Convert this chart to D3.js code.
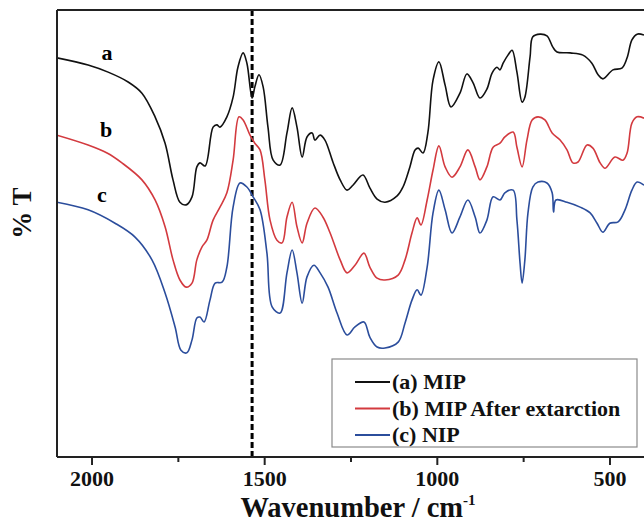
<!DOCTYPE html>
<html>
<head>
<meta charset="utf-8">
<script src="https://cdn.jsdelivr.net/npm/d3@7"></script>
<style>
  body { margin: 0; background: #fff; }
  text { font-family: "Liberation Serif", "Times New Roman", serif; font-weight: bold; }
</style>
</head>
<body>
<script>
// FTIR spectra, [wavenumber, %T]
var mipData = [
  [2100,89.3],[2010,87.7],[1952,86.1],[1894,83.9],[1854,81.4],[1816,76.1],[1787,70.2],[1764,62.0],
  [1744,57.0],[1726,56.4],[1709,58.2],[1695,64.9],[1686,65.8],[1671,65.1],[1648,73.8],[1637,74.3],
  [1628,73.8],[1608,76.1],[1590,80.5],[1576,87.2],[1561,90.4],[1550,88.1],[1535,80.3],[1527,82.8],
  [1515,85.5],[1503,82.8],[1489,73.8],[1474,66.4],[1454,65.3],[1434,72.5],[1419,78.1],[1405,73.8],
  [1390,67.1],[1376,71.6],[1361,72.5],[1353,70.9],[1338,72.0],[1324,70.9],[1301,66.0],[1280,62.0],
  [1260,59.7],[1243,60.8],[1214,63.1],[1194,60.2],[1173,57.7],[1150,57.0],[1115,58.4],[1098,60.4],
  [1078,64.9],[1063,68.7],[1054,69.1],[1040,68.0],[1026,72.5],[1011,84.3],[994,88.4],[976,83.2],
  [959,78.3],[933,81.4],[913,85.7],[895,83.7],[875,80.3],[855,82.3],[840,85.9],[826,87.2],
  [817,86.6],[808,88.1],[794,89.9],[782,91.0],[768,86.1],[753,79.4],[745,80.5],[730,89.5],
  [722,94.0],[701,94.6],[681,94.2],[664,91.7],[652,90.6],[614,90.4],[577,89.9],[551,88.1],
  [533,85.5],[519,84.6],[490,86.6],[464,87.0],[449,89.3],[435,93.3],[420,94.6],[400,94.4]
];
var mipExtractedData = [
  [2100,72.0],[2010,69.8],[1955,68.0],[1912,65.8],[1854,62.0],[1816,57.5],[1787,51.5],[1764,44.1],
  [1744,39.6],[1726,38.0],[1709,38.9],[1695,44.1],[1680,47.0],[1666,48.5],[1648,53.0],[1628,55.9],
  [1608,59.1],[1590,66.4],[1573,76.1],[1561,75.4],[1541,72.0],[1527,70.2],[1512,68.7],[1498,62.0],
  [1483,53.0],[1463,48.5],[1448,47.9],[1434,53.7],[1419,57.0],[1405,51.5],[1390,47.9],[1376,52.3],
  [1353,55.7],[1330,53.7],[1309,50.1],[1280,44.1],[1260,41.2],[1237,42.9],[1211,45.6],[1194,42.5],
  [1173,40.0],[1150,39.6],[1112,40.7],[1092,44.1],[1072,50.1],[1057,53.5],[1046,51.9],[1028,57.5],
  [1011,64.2],[994,69.6],[976,64.9],[956,62.6],[933,64.9],[910,68.7],[889,64.9],[875,62.0],
  [855,64.9],[837,69.3],[817,70.2],[803,71.6],[779,72.7],[768,69.3],[753,64.9],[739,70.9],
  [724,75.4],[707,76.1],[687,75.4],[666,72.5],[643,70.9],[623,68.7],[606,65.8],[591,66.0],
  [565,69.8],[548,69.1],[527,65.8],[513,64.6],[484,67.1],[461,66.4],[449,68.0],[435,74.7],
  [420,76.1],[400,75.8]
];
var nipData = [
  [2100,57.0],[2010,55.3],[1932,52.3],[1874,49.2],[1825,44.1],[1787,36.7],[1758,29.1],[1741,23.9],
  [1724,23.3],[1709,26.2],[1695,31.1],[1686,31.3],[1674,30.2],[1657,35.1],[1642,38.9],[1622,39.1],
  [1608,42.5],[1590,55.9],[1570,61.3],[1550,60.4],[1532,58.2],[1512,55.3],[1492,45.6],[1477,33.6],
  [1454,32.2],[1434,41.2],[1419,46.3],[1405,41.2],[1390,34.4],[1376,40.3],[1356,42.9],[1338,41.2],
  [1315,38.0],[1289,32.2],[1260,27.3],[1237,29.1],[1211,30.2],[1194,26.8],[1173,24.6],[1150,24.4],
  [1112,25.7],[1092,30.0],[1072,35.1],[1057,37.4],[1046,36.2],[1028,42.5],[1011,54.6],[994,59.7],
  [976,55.3],[956,50.1],[933,53.7],[910,57.5],[889,53.7],[875,50.1],[855,53.0],[837,58.2],
  [817,57.5],[803,59.1],[779,59.7],[768,53.0],[759,43.4],[753,38.9],[745,44.1],[736,54.6],
  [722,60.4],[707,61.5],[681,61.3],[666,59.1],[662,54.8],[655,57.5],[623,57.0],[585,55.9],
  [556,54.6],[536,52.3],[519,50.3],[499,52.3],[475,52.6],[455,55.3],[435,59.7],[420,61.5],
  [400,60.8]
];

var seriesNames = ["(a) MIP", "(b) MIP After extarction", "(c) NIP"];
var seriesColors = ["#111111", "#d33a3f", "#2b4d9c"];
var curveLetters = ["a", "b", "c"];
var majorTicks = [2000, 1500, 1000, 500];
var minorTicks = [1750, 1250, 750];
var markerWavenumber = 1535;

var w = 644, h = 523;
var plotLeft = 57, plotRight = 644, plotTop = 10, plotBottom = 457;

var svg = d3.select("body").append("svg")
    .attr("width", w)
    .attr("height", h);

var x = d3.scaleLinear().domain([2100, 400]).range([plotLeft, plotRight]);
var y = d3.scaleLinear().domain([0, 100]).range([plotBottom, plotTop]);

svg.append("clipPath").attr("id", "plotclip")
  .append("rect")
    .attr("x", plotLeft).attr("y", plotTop)
    .attr("width", plotRight - plotLeft).attr("height", plotBottom - plotTop);

// dashed marker line
svg.append("line")
    .attr("x1", x(markerWavenumber)).attr("x2", x(markerWavenumber))
    .attr("y1", plotTop).attr("y2", plotBottom)
    .style("stroke", "#000")
    .style("stroke-width", 3)
    .style("stroke-dasharray", "6,3");

// spectra
var line = d3.line()
    .x(function(d) { return x(d[0]); })
    .y(function(d) { return y(d[1]); })
    .curve(d3.curveCatmullRom.alpha(0.5));

var allSeries = [mipData, mipExtractedData, nipData];

svg.append("g").attr("clip-path", "url(#plotclip)")
  .selectAll("path")
  .data(allSeries)
  .enter()
  .append("path")
    .attr("d", function(d) { return line(d); })
    .style("fill", "none")
    .style("stroke", function(d, i) { return seriesColors[i]; })
    .style("stroke-width", 1.6);

// curve letters
svg.selectAll(".letter")
  .data(curveLetters)
  .enter()
  .append("text")
    .attr("class", "letter")
    .attr("x", function(d, i) { return [107, 106, 102][i]; })
    .attr("y", function(d, i) { return [60, 137, 202][i]; })
    .attr("text-anchor", "middle")
    .attr("font-size", "22px")
    .text(function(d) { return d; });

// frame: top and left borders
svg.append("line")
    .attr("x1", plotLeft).attr("x2", plotRight).attr("y1", plotTop).attr("y2", plotTop)
    .style("stroke", "#222").style("stroke-width", 2);
svg.append("line")
    .attr("x1", plotLeft).attr("x2", plotLeft).attr("y1", plotTop).attr("y2", plotBottom)
    .style("stroke", "#222").style("stroke-width", 2);

// x axis
var xAxis = d3.axisBottom(x)
    .tickValues(majorTicks)
    .tickSize(8)
    .tickSizeOuter(0)
    .tickPadding(5)
    .tickFormat(d3.format("d"));

var gx = svg.append("g")
    .attr("transform", "translate(0," + plotBottom + ")")
    .call(xAxis);
gx.select(".domain").style("stroke", "#222").style("stroke-width", 2)
    .attr("d", "M" + plotLeft + ",0H" + plotRight);
gx.selectAll(".tick line").style("stroke", "#222").style("stroke-width", 2);
gx.selectAll(".tick text")
    .attr("font-family", "Liberation Serif, serif")
    .attr("font-weight", "bold")
    .attr("font-size", "22px")
    .style("fill", "#111");

var gMinor = svg.append("g")
    .attr("transform", "translate(0," + plotBottom + ")")
    .call(d3.axisBottom(x).tickValues(minorTicks).tickSize(5).tickFormat(""));
gMinor.select(".domain").remove();
gMinor.selectAll(".tick line").style("stroke", "#222").style("stroke-width", 2);

// axis titles
var xt = svg.append("text")
    .attr("x", 358)
    .attr("y", 516.5)
    .attr("text-anchor", "middle")
    .attr("font-size", "28.5px")
    .style("fill", "#111");
xt.append("tspan").text("Wavenumber / cm");
xt.append("tspan").attr("dy", -12).attr("font-size", "15px").text("-1");

svg.append("text")
    .attr("transform", "translate(31,213) rotate(-90)")
    .attr("text-anchor", "middle")
    .attr("font-size", "27px")
    .style("fill", "#111")
    .text("% T");

// legend
var legend = svg.append("g");
legend.append("rect")
    .attr("x", 332).attr("y", 359)
    .attr("width", 305).attr("height", 88)
    .style("fill", "#fff")
    .style("stroke", "#8a8a8a")
    .style("stroke-width", 1.2);

var rows = legend.selectAll(".row")
  .data(seriesNames)
  .enter()
  .append("g")
    .attr("transform", function(d, i) { return "translate(0," + (382 + i * 26.5) + ")"; });

rows.append("line")
    .attr("x1", 355).attr("x2", 390)
    .style("stroke", function(d, i) { return seriesColors[i]; })
    .style("stroke-width", 2);

rows.append("text")
    .attr("x", 392)
    .attr("y", 7)
    .attr("font-size", "22px")
    .style("fill", "#111")
    .text(function(d) { return d; });
</script>
</body>
</html>
